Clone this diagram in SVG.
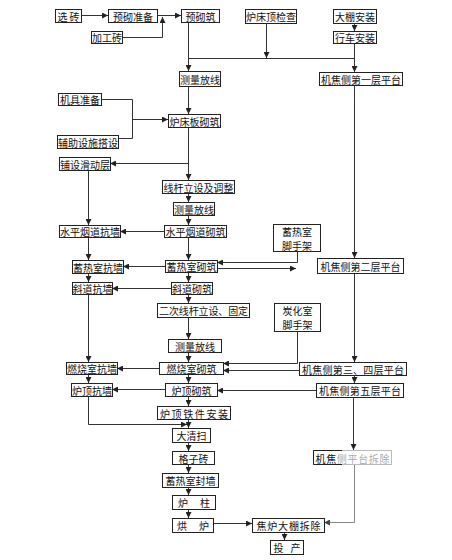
<svg xmlns="http://www.w3.org/2000/svg" width="452" height="560" viewBox="0 0 452 560">
<defs>
<marker id="ah" markerUnits="userSpaceOnUse" markerWidth="6" markerHeight="6" refX="6" refY="3" orient="auto">
<path d="M0,0 L6,3 L0,6 z" fill="#222"/>
</marker>
<marker id="ahg" markerUnits="userSpaceOnUse" markerWidth="6" markerHeight="6" refX="6" refY="3" orient="auto">
<path d="M0,0 L6,3 L0,6 z" fill="#444"/>
</marker>
<style>
rect{fill:#fff;stroke:#222;stroke-width:1}
text{font-family:"Noto Sans CJK SC","Noto Sans CJK JP",sans-serif;font-size:10px;fill:#111;text-anchor:middle;dominant-baseline:central}
#edges path{fill:none;stroke:#333;stroke-width:1}
.a{marker-end:url(#ah)}
</style>
</defs>
<rect x="0" y="0" width="452" height="560" style="stroke:none;fill:#fff"/>
<g id="edges">
<path class="a" d="M81,15.5 H108"/>
<path class="a" d="M157,15.5 H181"/>
<path class="a" d="M122,37.5 H162.5 V17"/>
<path class="a" d="M188.5,22 V71"/>
<path class="a" d="M266.5,23 V58"/>
<path d="M188.5,58.5 H354.5"/>
<path class="a" d="M354.5,23 V31"/>
<path class="a" d="M354.5,43 V72"/>
<path class="a" d="M188.5,86 V114"/>
<path d="M101,99.5 H132.5 V138.5 H118"/>
<path class="a" d="M132.5,119.5 H168"/>
<path class="a" d="M188.5,127 V180"/>
<path class="a" d="M188.5,163.5 H110"/>
<path class="a" d="M88.5,170 V225"/>
<path class="a" d="M188.5,193 V202"/>
<path class="a" d="M188.5,215 V225"/>
<path class="a" d="M164,231.5 H120"/>
<path class="a" d="M88.5,237 V260"/>
<path class="a" d="M188.5,237 V260"/>
<path class="a" d="M165,266.5 H123"/>
<path class="a" d="M297.5,251 V262.5 H217"/>
<path class="a" d="M217,268.5 H296"/>
<path class="a" d="M354.5,85 V258"/>
<path class="a" d="M88.5,273 V282"/>
<path class="a" d="M188.5,272 V282"/>
<path class="a" d="M171,288.5 H112"/>
<path class="a" d="M188.5,294 V303"/>
<path class="a" d="M188.5,317 V339"/>
<path class="a" d="M188.5,352 V362"/>
<path class="a" d="M88.5,294 V362"/>
<path class="a" d="M159,368.5 H117"/>
<path class="a" d="M297.5,331 V363.5 H223"/>
<path class="a" d="M299,370.5 H223"/>
<path class="a" d="M354.5,273 V362"/>
<path class="a" d="M354.5,375 V383"/>
<path class="a" d="M88.5,374 V383"/>
<path class="a" d="M188.5,374 V383"/>
<path class="a" d="M165,389.5 H112"/>
<path class="a" d="M316,390.5 H217"/>
<path class="a" d="M188.5,396 V406"/>
<path class="a" d="M88.5,396 V424.5 H187"/>
<path class="a" d="M188.5,419 V428"/>
<path class="a" d="M188.5,442 V451"/>
<path class="a" d="M188.5,464 V473"/>
<path class="a" d="M188.5,487 V495"/>
<path class="a" d="M188.5,509 V518"/>
<path class="a" d="M213,523.5 H252"/>
<path class="a" d="M353.5,397 V450"/>
<path d="M354.5,464 V522.5 H324" style="stroke:#888;marker-end:url(#ahg)"/>
<path class="a" d="M284.5,532 V540"/>
</g>
<g id="n1"><rect x="55.5" y="9.5" width="26" height="13"/><text x="68.5" y="16" textLength="22" lengthAdjust="spacing">选 砖</text></g>
<g id="n2"><rect x="108.5" y="9.5" width="49" height="13"/><text x="133" y="16">预砌准备</text></g>
<g id="n3"><rect x="181.5" y="9.5" width="38" height="13"/><text x="200.5" y="16">预砌筑</text></g>
<g id="n4"><rect x="245.5" y="9.5" width="51" height="14"/><text x="271" y="16.5">炉床顶检查</text></g>
<g id="n5"><rect x="333.5" y="9.5" width="43" height="14"/><text x="355" y="16.5">大棚安装</text></g>
<g id="n6"><rect x="91.5" y="31.5" width="31" height="12"/><text x="107" y="37.5">加工砖</text></g>
<g id="n7"><rect x="333.5" y="31.5" width="43" height="12"/><text x="355" y="37.5">行车安装</text></g>
<g id="n8"><rect x="179.5" y="71.5" width="41" height="15"/><text x="200" y="79">测量放线</text></g>
<g id="n9"><rect x="319.5" y="72.5" width="83" height="13"/><text x="361" y="79" textLength="80" lengthAdjust="spacing">机焦侧第一层平台</text></g>
<g id="n10"><rect x="58.5" y="93.5" width="43" height="12"/><text x="80" y="99.5">机具准备</text></g>
<g id="n11"><rect x="168.5" y="114.5" width="52" height="13"/><text x="194.5" y="121">炉床板砌筑</text></g>
<g id="n12"><rect x="57.5" y="135.5" width="61" height="13"/><text x="88" y="142">辅助设施搭设</text></g>
<g id="n13"><rect x="59.5" y="157.5" width="51" height="13"/><text x="85" y="164">铺设滑动层</text></g>
<g id="n14"><rect x="162.5" y="180.5" width="72" height="13"/><text x="198.5" y="187" textLength="70" lengthAdjust="spacing">线杆立设及调整</text></g>
<g id="n15"><rect x="173.5" y="202.5" width="41" height="13"/><text x="194" y="209">测量放线</text></g>
<g id="n16"><rect x="273.5" y="224.5" width="47" height="27"/><text x="297" y="231">蓄热室</text><text x="297" y="245">脚手架</text></g>
<g id="n17"><rect x="59.5" y="225.5" width="61" height="12"/><text x="90" y="231.5">水平烟道抗墙</text></g>
<g id="n18"><rect x="164.5" y="225.5" width="62" height="12"/><text x="195.5" y="231.5">水平烟道砌筑</text></g>
<g id="n19"><rect x="317.5" y="258.5" width="86" height="15"/><text x="360.5" y="266" textLength="80" lengthAdjust="spacing">机焦侧第二层平台</text></g>
<g id="n20"><rect x="72.5" y="260.5" width="51" height="13"/><text x="98" y="267">蓄热室抗墙</text></g>
<g id="n21"><rect x="165.5" y="260.5" width="52" height="12"/><text x="191.5" y="266.5">蓄热室砌筑</text></g>
<g id="n22"><rect x="72.5" y="282.5" width="40" height="12"/><text x="92.5" y="288.5">斜道抗墙</text></g>
<g id="n23"><rect x="171.5" y="282.5" width="41" height="12"/><text x="192" y="288.5">斜道砌筑</text></g>
<g id="n24"><rect x="157.5" y="303.5" width="92" height="14"/><text x="203.5" y="310.5" textLength="89" lengthAdjust="spacing">二次线杆立设、固定</text></g>
<g id="n25"><rect x="274.5" y="303.5" width="46" height="28"/><text x="297.5" y="310">炭化室</text><text x="297.5" y="324">脚手架</text></g>
<g id="n26"><rect x="168.5" y="339.5" width="53" height="13"/><text x="195" y="346">测量放线</text></g>
<g id="n27"><rect x="66.5" y="362.5" width="51" height="12"/><text x="92" y="368.5">燃烧室抗墙</text></g>
<g id="n28"><rect x="159.5" y="362.5" width="64" height="12"/><text x="191.5" y="368.5">燃烧室砌筑</text></g>
<g id="n29"><rect x="299.5" y="362.5" width="107" height="13"/><text x="353" y="369" textLength="102" lengthAdjust="spacing">机焦侧第三、四层平台</text></g>
<g id="n30"><rect x="71.5" y="383.5" width="41" height="13"/><text x="92" y="390">炉顶抗墙</text></g>
<g id="n31"><rect x="165.5" y="383.5" width="52" height="13"/><text x="191.5" y="390">炉顶砌筑</text></g>
<g id="n32"><rect x="316.5" y="383.5" width="87" height="14"/><text x="360" y="390.5" textLength="82" lengthAdjust="spacing">机焦侧第五层平台</text></g>
<g id="n33"><rect x="157.5" y="406.5" width="73" height="13"/><text x="194" y="413" textLength="68" lengthAdjust="spacing">炉顶铁件安装</text></g>
<g id="n34"><rect x="172.5" y="428.5" width="38" height="14"/><text x="191.5" y="435.5">大清扫</text></g>
<g id="n35"><rect x="172.5" y="451.5" width="42" height="13"/><text x="193.5" y="458">格子砖</text></g>
<g id="n36"><rect x="313.5" y="450.5" width="78" height="14" style="stroke:#bbb"/><path d="M342,450.5 H313.5 V464.5 H342" style="fill:none;stroke:#222;stroke-width:1"/><text x="352.5" y="457.5" textLength="74" lengthAdjust="spacing"><tspan>机焦</tspan><tspan style="fill:#aaa">侧平台拆除</tspan></text></g>
<g id="n37"><rect x="162.5" y="473.5" width="56" height="14"/><text x="190.5" y="480.5">蓄热室封墙</text></g>
<g id="n38"><rect x="172.5" y="495.5" width="43" height="14"/><text x="194" y="502.5" textLength="32" lengthAdjust="spacing">炉 柱</text></g>
<g id="n39"><rect x="172.5" y="518.5" width="41" height="14"/><text x="193" y="525.5" textLength="32" lengthAdjust="spacing">烘 炉</text></g>
<g id="n40"><rect x="252.5" y="518.5" width="72" height="14"/><text x="288.5" y="525.5" textLength="64" lengthAdjust="spacing">焦炉大棚拆除</text></g>
<g id="n41"><rect x="270.5" y="540.5" width="33" height="14"/><text x="287" y="547.5" textLength="27" lengthAdjust="spacing">投 产</text></g>
</svg>
